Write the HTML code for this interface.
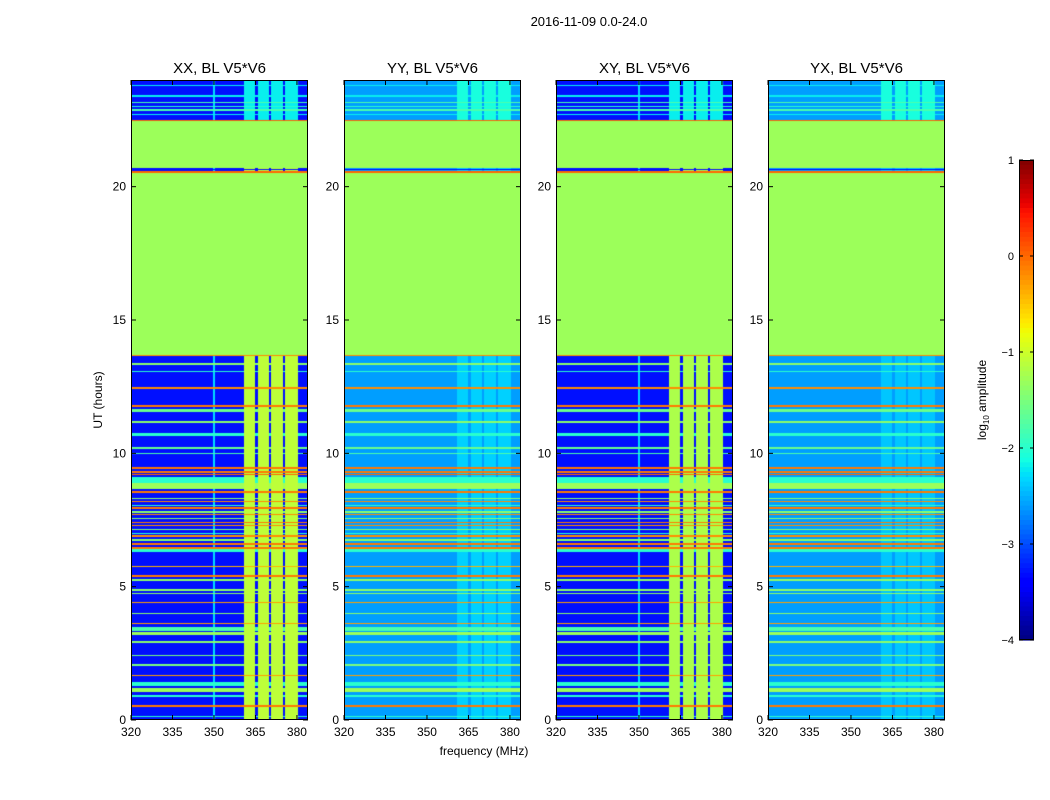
<!DOCTYPE html>
<html><head><meta charset="utf-8"><style>
body{margin:0;background:#fff;width:1050px;height:800px;position:relative;font-family:"Liberation Sans",sans-serif;overflow:hidden}
.t{position:absolute;white-space:nowrap}
</style></head><body>
<div class="t" style="left:489px;top:14px;width:200px;text-align:center;font-size:13px">2016-11-09 0.0-24.0</div>
<svg id="svg" width="1050" height="800" style="position:absolute;left:0;top:0"></svg>
<script>
// ---- data ----
const panelTitles = ["XX, BL V5*V6","YY, BL V5*V6","XY, BL V5*V6","YX, BL V5*V6"];
const xTicks = [320,335,350,365,380];
const yTicks = [0,5,10,15,20];
const cbTicks = [1,0,-1,-2,-3,-4];
const panelBg = [-3.3,-2.6,-3.3,-2.6];
const panelColBoost = [2.2,0.25,2.1,0.2];
const panelTopColBoost = [1.1,0.5,1.1,0.5];
const panelVLine = [-2.3,null,-2.3,null];
// blanked (flagged) time ranges [start,end], value
const blankStarts = [13.7,20.7];
const blankEnds = [20.5,22.45];
const blankVal = -1.3;
// RFI column bands (MHz)
const colStarts = [361,365.9,370.7,375.8];
const colEnds = [365.0,369.8,374.9,380.3];
// horizontal RFI lines
const lineTimes = [23.8,23.4,23.15,23.0,22.87,22.7,22.45,20.53,20.65,13.7,13.35,13.06,12.45,11.78,11.6,11.18,10.7,10.2,10.0,9.45,9.3,9.2,9.0,8.78,8.55,8.3,8.2,8.05,7.95,7.8,7.7,7.55,7.4,7.3,7.15,7.0,6.9,6.75,6.6,6.45,6.35,5.75,5.4,5.25,4.87,4.75,4.4,4.0,3.63,3.4,3.25,2.93,2.43,2.06,1.68,1.35,1.12,0.9,0.52,0.12];
const lineVals = [-2.2,-2.2,-1.8,-2.0,-1.8,-2.2,0.0,0.0,-3.3,-0.2,-1.4,-2.0,-0.2,-0.1,-1.6,-1.4,-2.0,-1.6,-1.8,-0.1,-0.1,0.0,-2.0,-1.3,-0.1,-1.4,-0.2,-2.0,-0.1,-1.4,-0.2,-1.4,-0.1,-0.2,-1.4,-2.0,-0.2,-1.4,-0.1,-0.1,-2.0,-0.4,-0.1,-1.4,-1.4,-1.4,-0.3,-1.4,-0.3,-1.8,-1.3,-1.4,-1.5,-1.5,-0.3,-2.0,-1.3,-2.0,-0.1,-2.0];
const lineWidths = [0.05,0.05,0.05,0.05,0.05,0.05,0.08,0.12,0.05,0.08,0.05,0.05,0.08,0.1,0.12,0.05,0.1,0.05,0.05,0.06,0.06,0.06,0.2,0.2,0.06,0.05,0.05,0.05,0.05,0.05,0.05,0.05,0.05,0.05,0.05,0.05,0.05,0.05,0.05,0.06,0.1,0.05,0.1,0.05,0.05,0.05,0.05,0.05,0.05,0.15,0.1,0.05,0.05,0.05,0.05,0.15,0.15,0.05,0.06,0.05];

// ---- layout ----
const lefts=[131,344,556,768], PT=80, PW=177, PH=640;
const fMin=320,fMax=384,tMin=0,tMax=24;
const xs=(l,f)=>l+(f-fMin)/(fMax-fMin)*PW;
const ys=t=>PT+PH-(t-tMin)/(tMax-tMin)*PH;
const CB={x:1019,y:160,w:15,h:480,min:-4,max:1};
const cbY=v=>CB.y+(CB.max-v)/(CB.max-CB.min)*CB.h;

function interp(pts,x){for(let i=1;i<pts.length;i++){if(x<=pts[i][0]){const a=pts[i-1],b=pts[i];return a[1]+(b[1]-a[1])*(x-a[0])/(b[0]-a[0]);}}return pts[pts.length-1][1];}
const R=[[0,0],[0.35,0],[0.66,1],[0.89,1],[1,0.5]],G=[[0,0],[0.125,0],[0.375,1],[0.64,1],[0.91,0],[1,0]],B=[[0,0.5],[0.11,1],[0.34,1],[0.65,0],[1,0]];
function jet(v){let x=(v-CB.min)/(CB.max-CB.min);x=Math.max(0,Math.min(1,x));return [interp(R,x)*255|0,interp(G,x)*255|0,interp(B,x)*255|0];}

const NS="http://www.w3.org/2000/svg";
const svg=document.getElementById('svg');
function el(tag,attrs,parent){const e=document.createElementNS(NS,tag);for(const k in attrs)e.setAttribute(k,attrs[k]);(parent||svg).appendChild(e);return e;}
function txt(x,y,s,anchor,size,parent){const e=el('text',{x:x,y:y,'text-anchor':anchor,'font-size':size,'font-family':'Liberation Sans, sans-serif'},parent);e.textContent=s;return e;}

function valueAt(p,t,f){
  for(let i=0;i<blankStarts.length;i++){if(t>=blankStarts[i]&&t<blankEnds[i])return blankVal;}
  let v=panelBg[p];
  for(let i=0;i<colStarts.length;i++){if(f>=colStarts[i]&&f<colEnds[i]){v+=(t>22.45?panelTopColBoost[p]:panelColBoost[p]);break;}}
  if(panelVLine[p]!==null&&Math.abs(f-350)<0.25)v=Math.max(v,panelVLine[p]);
  for(let i=0;i<lineTimes.length;i++){if(Math.abs(t-lineTimes[i])<=lineWidths[i]/2){v=(lineVals[i]<v&&lineVals[i]<-3)?lineVals[i]:Math.max(v,lineVals[i]);}}
  return v;
}

for(let p=0;p<4;p++){
  const g=el('g',{});
  
  
  const fo=el('foreignObject',{x:lefts[p],y:PT,width:PW,height:PH},g);
  const c=document.createElement('canvas');c.width=PW;c.height=PH;
  
  
  fo.appendChild(c);
  const ctx=c.getContext('2d');const img=ctx.createImageData(PW,PH);
  for(let yy=0;yy<PH;yy++){const t=tMax-(yy+0.5)/PH*(tMax-tMin);
    for(let xx=0;xx<PW;xx++){const f=fMin+(xx+0.5)/PW*(fMax-fMin);
      const col=jet(valueAt(p,t,f));const k=(yy*PW+xx)*4;
      img.data[k]=col[0];img.data[k+1]=col[1];img.data[k+2]=col[2];img.data[k+3]=255;}}
  ctx.putImageData(img,0,0);
  el('rect',{x:lefts[p]+0.5,y:PT+0.5,width:PW-1,height:PH-1,fill:'none',stroke:'#000','stroke-width':1},g);
  xTicks.forEach(f=>{const x=xs(lefts[p],f);
    el('line',{x1:x,y1:PT+PH,x2:x,y2:PT+PH-5,stroke:'#000'},g);
    el('line',{x1:x,y1:PT,x2:x,y2:PT+5,stroke:'#000'},g);
    txt(x,PT+PH+16,String(f),'middle',12,g);});
  yTicks.forEach(t=>{const y=ys(t);
    el('line',{x1:lefts[p],y1:y,x2:lefts[p]+5,y2:y,stroke:'#000'},g);
    el('line',{x1:lefts[p]+PW,y1:y,x2:lefts[p]+PW-5,y2:y,stroke:'#000'},g);
    txt(lefts[p]-5,y+4,String(t),'end',12,g);});
  const tt=txt(lefts[p]+PW/2,PT-7,panelTitles[p],'middle',15,g);
  
  
}
const xl=txt(484,755,'frequency (MHz)','middle',12);


const yl=txt(0,0,'UT (hours)','middle',12);yl.setAttribute('transform','translate(102,400) rotate(-90)');



// colorbar
const cbg=el('g',{});


const steps=100;
for(let i=0;i<steps;i++){const v=CB.max-(i+0.5)/steps*(CB.max-CB.min);const c=jet(v);
  el('rect',{x:CB.x,y:CB.y+i*CB.h/steps,width:CB.w,height:CB.h/steps+0.6,fill:'rgb('+c.join(',')+')'},cbg);}
el('rect',{x:CB.x+0.5,y:CB.y+0.5,width:CB.w-1,height:CB.h-1,fill:'none',stroke:'#000'},cbg);
cbTicks.forEach(v=>{const y=cbY(v);
  el('line',{x1:CB.x,y1:y,x2:CB.x+4,y2:y,stroke:'#000'},cbg);
  el('line',{x1:CB.x+CB.w,y1:y,x2:CB.x+CB.w-4,y2:y,stroke:'#000'},cbg);
  txt(CB.x-5,y+4,v<0?'\u2212'+(-v):String(v),'end',11,cbg);});
const cl=el('text',{'text-anchor':'middle','font-size':12,'font-family':'Liberation Sans, sans-serif',transform:'translate(986,400) rotate(-90)'},cbg);
cl.innerHTML='log<tspan font-size="8" dy="3">10</tspan><tspan dy="-3"> amplitude</tspan>';


</script>
</body></html>
